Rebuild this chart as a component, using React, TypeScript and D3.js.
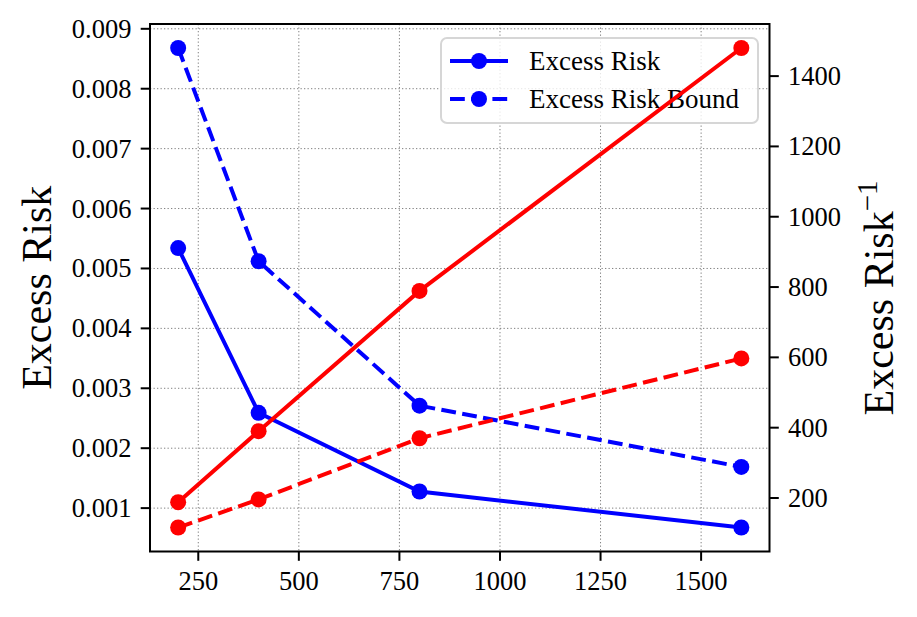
import React from 'react'
import * as d3 from 'd3'

// values
const sampleSizes = [200, 400, 800, 1600]
const excessRisk = [0.00534, 0.00259, 0.001277, 0.000676]
const excessRiskBound = [0.00868, 0.00512, 0.00271, 0.001688]
const invExcessRisk = [188, 390, 789, 1480]
const invExcessRiskBound = [116, 196, 370, 597]

const xTicks = [250, 500, 750, 1000, 1250, 1500]
const leftTicks = [0.001, 0.002, 0.003, 0.004, 0.005, 0.006, 0.007, 0.008, 0.009]
const rightTicks = [200, 400, 600, 800, 1000, 1200, 1400]

const legendItems = [
  { label: 'Excess Risk', dashed: false },
  { label: 'Excess Risk Bound', dashed: true }
]

const W = 917
const H = 617
const margin = { left: 150, right: 147.5, top: 24, bottom: 65.5 }
const FONT = 'Liberation Serif'
const BLUE = '#0000ff'
const RED = '#ff0000'
const DASH = '14.8,6.4'
const txt = { fontFamily: FONT }

// matplotlib style 5% padding
function padded(vals: number[]): [number, number] {
  const [lo, hi] = d3.extent(vals) as [number, number]
  const m = (hi - lo) * 0.05
  return [lo - m, hi + m]
}

export default function App() {
  const x0 = margin.left, x1 = W - margin.right
  const y0 = margin.top, y1 = H - margin.bottom

  const x = d3.scaleLinear().domain(padded(sampleSizes)).range([x0, x1])
  const yL = d3.scaleLinear().domain(padded([...excessRisk, ...excessRiskBound])).range([y1, y0])
  const yR = d3.scaleLinear().domain(padded([...invExcessRisk, ...invExcessRiskBound])).range([y1, y0])

  const lineL = d3.line<number>().x((_, i) => x(sampleSizes[i])).y(d => yL(d))
  const lineR = d3.line<number>().x((_, i) => x(sampleSizes[i])).y(d => yR(d))

  const series = (vals: number[], line: d3.Line<number>, y: d3.ScaleLinear<number, number>, color: string, dashed: boolean) => (
    <g>
      <path d={line(vals) || ''} fill="none" stroke={color} strokeWidth={4}
        strokeDasharray={dashed ? DASH : undefined} />
      {vals.map((v, i) => (
        <circle key={i} cx={x(sampleSizes[i])} cy={y(v)} r={8} fill={color} />
      ))}
    </g>
  )

  const lg = { x: 441, y: 38, w: 317, h: 85 }

  return (
    <svg width={W} height={H} style={{ position: 'absolute', left: 0, top: 0 }}>
      <rect width={W} height={H} fill="#fff" />
      {/* grid */}
      <g stroke="#808080" strokeWidth={1} strokeDasharray="1.3,2.2">
        {xTicks.map(t => <line key={'gx' + t} x1={x(t)} x2={x(t)} y1={y0} y2={y1} />)}
        {leftTicks.map(t => <line key={'gy' + t} x1={x0} x2={x1} y1={yL(t)} y2={yL(t)} />)}
      </g>

      {series(excessRisk, lineL, yL, BLUE, false)}
      {series(excessRiskBound, lineL, yL, BLUE, true)}

      {/* legend */}
      <g>
        <rect x={lg.x} y={lg.y} width={lg.w} height={lg.h} rx={6} fill="#fff" fillOpacity={0.8}
          stroke="#d6d6d6" strokeWidth={2} />
        {legendItems.map((d, i) => {
          const cy = 61 + i * 38
          return (
            <g key={d.label}>
              <line x1={450} x2={508} y1={cy} y2={cy} stroke={BLUE} strokeWidth={4}
                strokeDasharray={d.dashed ? DASH : undefined} />
              <circle cx={479} cy={cy} r={8} fill={BLUE} />
              <text x={529} y={cy + 9} fontSize={27} fill="#000" style={txt}>{d.label}</text>
            </g>
          )
        })}
      </g>

      {series(invExcessRisk, lineR, yR, RED, false)}
      {series(invExcessRiskBound, lineR, yR, RED, true)}

      {/* frame */}
      <rect x={x0} y={y0} width={x1 - x0} height={y1 - y0} fill="none" stroke="#000" strokeWidth={2} />

      {/* x axis */}
      {xTicks.map(t => (
        <g key={t}>
          <line x1={x(t)} x2={x(t)} y1={y1} y2={y1 + 9.3} stroke="#000" strokeWidth={2} />
          <text x={x(t)} y={y1 + 38} fontSize={26.5} textAnchor="middle" style={txt}>{t}</text>
        </g>
      ))}

      {/* left axis */}
      {leftTicks.map(t => (
        <g key={t}>
          <line x1={x0 - 9.3} x2={x0} y1={yL(t)} y2={yL(t)} stroke="#000" strokeWidth={2} />
          <text x={x0 - 18.6} y={yL(t) + 9} fontSize={26.5} textAnchor="end" style={txt}>
            {d3.format('.3f')(t)}
          </text>
        </g>
      ))}

      {/* right axis */}
      {rightTicks.map(t => (
        <g key={t}>
          <line x1={x1} x2={x1 + 9.3} y1={yR(t)} y2={yR(t)} stroke="#000" strokeWidth={2} />
          <text x={x1 + 18.6} y={yR(t) + 9} fontSize={26.5} textAnchor="start" style={txt}>{t}</text>
        </g>
      ))}

      {/* axis labels */}
      <text transform={`translate(51, ${(y0 + y1) / 2}) rotate(-90)`} textAnchor="middle" fontSize={42} style={txt}>
        Excess Risk
      </text>
      <text transform={`translate(893, 298) rotate(-90)`} textAnchor="middle" fontSize={42} style={txt}>
        Excess Risk<tspan fontSize={29} dy={-16}>−1</tspan>
      </text>
    </svg>
  )
}
